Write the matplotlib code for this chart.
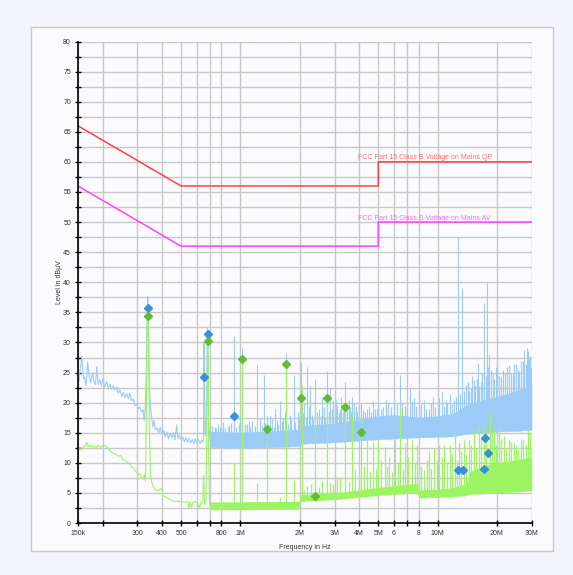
import matplotlib
matplotlib.use('Agg')
import matplotlib.pyplot as plt
from matplotlib.patches import Rectangle
import numpy as np

plt.rcParams['font.family'] = ['Liberation Sans', 'DejaVu Sans']

### Data (frequency in Hz, level in dBuV)
# Limit lines
qp_f = [150e3, 500e3, 5e6, 5e6, 30e6]
qp_v = [66, 56, 56, 60, 60]
av_f = [150e3, 500e3, 5e6, 5e6, 30e6]
av_v = [56, 46, 46, 50, 50]

# Peak trace, low frequency part
pk_f = [150e3, 152e3, 154e3, 157e3, 160e3, 162e3, 165e3, 168e3, 171e3, 174e3,
        178e3, 181e3, 184e3, 187e3, 190e3, 194e3, 197e3, 201e3, 205e3, 210e3,
        214e3, 218e3, 222e3, 227e3, 231e3, 236e3, 240e3, 245e3, 250e3, 255e3,
        260e3, 265e3, 270e3, 275e3, 280e3, 286e3, 292e3, 298e3, 304e3, 309e3,
        315e3, 321e3, 325e3, 329e3, 333e3, 337e3, 339e3, 342e3, 346e3, 350e3,
        355e3, 360e3, 365e3, 370e3, 378e3, 385e3, 392e3, 400e3, 408e3, 416e3,
        424e3, 432e3, 440e3, 450e3, 458e3, 466e3, 475e3, 482e3, 490e3, 500e3,
        510e3, 520e3, 530e3, 540e3, 550e3, 560e3, 570e3, 580e3, 590e3, 600e3,
        612e3, 625e3, 636e3, 645e3, 650e3, 654e3, 658e3, 662e3, 668e3, 675e3,
        680e3, 685e3, 690e3, 697e3, 705e3]
pk_v = [27.7, 23.5, 25.5, 27.7, 24.0, 24.3, 22.8, 26.7, 24.5, 23.3,
        25.0, 23.5, 23.0, 26.0, 23.0, 23.8, 22.8, 24.0, 22.6, 23.5,
        22.3, 23.1, 22.2, 22.8, 22.1, 22.6, 21.6, 22.1, 21.0, 21.7,
        20.8, 21.5, 20.7, 21.6, 20.3, 20.6, 19.5, 19.8, 19.0, 19.3,
        18.5, 18.8, 17.0, 19.0, 25.0, 35.0, 37.6, 33.0, 22.0, 19.5,
        17.5, 16.0, 17.0, 15.5, 15.8, 15.0, 15.9, 14.8, 15.4, 14.3,
        15.1, 14.0, 14.9, 14.2, 15.0, 13.8, 16.3, 14.0, 14.6, 13.8,
        14.3, 13.5, 14.2, 13.4, 14.1, 13.3, 13.9, 13.2, 14.0, 13.5,
        13.9, 13.2, 13.8, 13.5, 14.0, 30.0, 22.0, 15.0, 14.5, 20.0,
        32.5, 31.0, 17.0, 15.0, 13.5]

# Peak trace, dense part above 700 kHz: lower and upper edge of the band
pk_band_f = [700e3, 1e6, 1.5e6, 2e6, 2.1e6, 3e6, 4e6, 5e6, 6e6, 8e6,
             10e6, 12e6, 14e6, 17e6, 20e6, 25e6, 30e6]
pk_band_lo = [12.6, 12.5, 12.6, 12.8, 13.2, 13.4, 13.7, 13.9, 14.0, 14.2,
              14.3, 14.4, 14.8, 15.0, 15.2, 15.3, 15.5]
pk_band_hi = [15.2, 15.1, 15.3, 15.6, 16.2, 16.6, 17.3, 17.8, 18.0, 17.6,
              17.8, 18.2, 19.6, 20.5, 21.0, 22.0, 23.0]

# Peak trace, tall single spikes
pk_spike_f = [750e3, 800e3, 860e3, 932e3, 980e3, 1.02e6, 1.08e6, 1.15e6, 1.22e6, 1.31e6,
              1.37e6, 1.45e6, 1.50e6, 1.58e6, 1.65e6, 1.70e6, 1.78e6, 1.86e6, 1.95e6, 2.04e6,
              2.11e6, 2.18e6, 2.25e6, 2.38e6, 2.5e6, 2.6e6, 2.74e6, 2.85e6, 2.95e6, 3.1e6,
              3.25e6, 3.41e6, 3.55e6, 3.7e6, 3.85e6, 4.1e6, 4.3e6, 4.5e6, 4.8e6, 5.0e6,
              5.3e6, 5.6e6, 6.0e6, 6.45e6, 6.8e6, 7.2e6, 7.6e6, 8.0e6, 8.5e6, 9.0e6,
              9.5e6, 10e6, 10.5e6, 11e6, 11.5e6, 12.1e6, 12.7e6, 13.3e6, 13.9e6, 14.5e6,
              15e6, 15.5e6, 16e6, 16.5e6, 17.1e6, 17.8e6, 18.3e6, 19e6, 19.7e6, 20.5e6,
              21.5e6, 22.5e6, 23.5e6, 24.5e6, 25.5e6, 26.5e6, 27.5e6, 28.3e6, 29e6, 29.7e6]
pk_spike_v = [15.8, 15.5, 16.0, 31.0, 16.5, 29.0, 16.5, 17.0, 26.3, 24.6,
              17.5, 17.2, 19.0, 20.2, 17.5, 28.3, 18.0, 24.6, 18.5, 26.8,
              20.0, 26.0, 22.7, 24.0, 19.0, 21.0, 25.2, 22.5, 20.5, 19.5,
              21.0, 23.5, 20.5, 21.0, 19.5, 20.0, 18.5, 19.5, 19.0, 20.5,
              19.3, 20.0, 21.0, 24.6, 19.5, 22.4, 20.8, 19.5, 20.5, 19.0,
              21.0, 19.5, 22.0, 20.5, 21.5, 20.5, 47.6, 39.0, 23.0, 22.0,
              24.5, 23.0, 26.6, 23.5, 36.5, 39.9, 27.9, 25.0, 26.0, 24.5,
              25.5, 26.0, 25.0, 26.5, 25.5, 27.0, 28.8, 29.0, 27.5, 26.0]

# Peak trace, small spikes that make the ragged top of the band
pk_small_f = [720e3, 740e3, 770e3, 790e3, 820e3, 840e3, 880e3, 900e3, 950e3, 1.0e6,
              1.05e6, 1.1e6, 1.12e6, 1.18e6, 1.25e6, 1.28e6, 1.34e6, 1.40e6, 1.42e6, 1.48e6,
              1.53e6, 1.55e6, 1.62e6, 1.68e6, 1.74e6, 1.81e6, 1.9e6, 1.98e6,
              2.08e6, 2.14e6, 2.22e6, 2.3e6, 2.34e6, 2.44e6, 2.55e6, 2.65e6, 2.7e6, 2.8e6,
              2.9e6, 3.0e6, 3.05e6, 3.15e6, 3.2e6, 3.3e6, 3.35e6, 3.48e6, 3.6e6, 3.65e6,
              3.78e6, 3.9e6, 4.0e6, 4.2e6, 4.4e6, 4.6e6, 4.7e6, 4.9e6,
              5.15e6, 5.45e6, 5.8e6, 6.2e6, 6.6e6, 7.0e6, 7.4e6, 7.8e6, 8.2e6, 8.7e6,
              9.2e6, 9.7e6, 10.2e6, 10.8e6, 11.2e6, 11.8e6, 12.4e6,
              13.0e6, 13.6e6, 14.2e6, 14.8e6, 15.3e6, 15.8e6, 16.3e6, 16.8e6, 17.5e6, 18.0e6,
              18.6e6, 19.3e6, 20.0e6, 21.0e6, 22.0e6, 23.0e6, 24.0e6, 25.0e6, 26.0e6, 27.0e6,
              28.0e6, 28.7e6, 29.4e6]
pk_small_v = [16.2, 15.9, 16.5, 16.0, 16.8, 15.8, 16.3, 16.6, 16.0, 17.2,
              16.4, 16.9, 15.9, 16.2, 17.5, 16.1, 16.7, 16.3, 17.8, 16.0,
              17.1, 16.5, 16.9, 18.5, 16.4, 17.3, 16.8, 17.6,
              18.2, 17.5, 19.5, 18.0, 17.2, 18.4, 17.8, 19.2, 17.6, 18.6,
              19.0, 18.0, 20.5, 18.3, 19.0, 18.5, 20.0, 18.8, 19.2, 18.4,
              20.0, 18.6, 19.5, 18.8, 19.0, 18.5, 20.2, 18.9,
              19.0, 20.5, 19.2, 19.8, 20.0, 19.0, 20.2, 19.5, 19.8, 19.0,
              20.0, 19.3, 20.8, 19.5, 20.0, 19.8, 21.0,
              21.5, 22.0, 23.5, 22.5, 23.8, 24.0, 22.8, 25.0, 24.5, 26.0,
              25.5, 24.0, 25.8, 24.2, 25.0, 26.2, 24.8, 26.5, 25.2, 27.0,
              26.5, 28.5, 27.8]

# Average trace, low frequency part
avg_f = [150e3, 155e3, 160e3, 164e3, 166e3, 169e3, 172e3, 176e3, 180e3, 185e3,
         190e3, 195e3, 200e3, 206e3, 210e3, 214e3, 220e3, 226e3, 233e3, 240e3,
         247e3, 254e3, 260e3, 268e3, 275e3, 281e3, 287e3, 293e3, 299e3, 305e3,
         310e3, 316e3, 322e3, 326e3, 330e3, 334e3, 337e3, 339e3, 342e3, 346e3,
         350e3, 355e3, 362e3, 370e3, 380e3, 390e3, 400e3, 405e3, 420e3, 440e3,
         449e3, 460e3, 480e3, 500e3, 520e3, 540e3, 548e3, 555e3, 565e3, 575e3,
         590e3, 605e3, 620e3, 632e3, 645e3, 650e3, 655e3, 660e3, 668e3, 675e3,
         680e3, 685e3, 690e3, 697e3]
avg_v = [12.3, 12.4, 12.6, 12.9, 13.4, 12.7, 12.9, 12.6, 12.8, 12.5,
         12.9, 12.6, 12.8, 12.9, 12.6, 12.4, 11.9, 11.6, 11.4, 11.1,
         11.2, 10.6, 10.4, 10.0, 9.9, 9.3, 9.1, 8.6, 8.4, 8.0,
         8.1, 7.5, 7.3, 8.0, 7.0, 20.0, 33.0, 35.0, 30.0, 15.0,
         8.0, 6.8, 6.0, 5.5, 5.4, 5.5, 5.8, 4.5, 4.3, 3.9,
         3.8, 3.6, 3.6, 3.5, 3.5, 3.5, 2.5, 3.5, 2.6, 3.5,
         3.5, 3.5, 2.5, 3.5, 3.5, 8.0, 5.0, 3.0, 3.5, 14.0,
         31.0, 30.0, 12.0, 3.0]

# Average trace, dense part above 700 kHz
avg_band_f = [700e3, 1.99e6, 2.01e6, 3e6, 4e6, 5e6, 6e6, 7.9e6, 8.05e6, 10e6,
              12e6, 14e6, 14.5e6, 17e6, 20e6, 25e6, 30e6]
avg_band_lo = [2.2, 2.3, 3.6, 3.9, 4.3, 4.6, 4.8, 5.0, 4.2, 4.3,
               4.4, 4.6, 4.8, 4.9, 5.0, 5.2, 5.4]
avg_band_hi = [3.5, 3.6, 4.7, 5.0, 5.5, 5.9, 6.2, 6.6, 5.5, 5.6,
               5.9, 6.5, 8.5, 9.5, 10.0, 10.5, 11.0]

# Average trace, single spikes
avg_spike_f = [932e3, 1.02e6, 1.21e6, 1.36e6, 1.58e6, 1.70e6, 1.87e6, 2.05e6, 2.18e6, 2.39e6,
               2.74e6, 2.85e6, 3.09e6, 3.41e6, 3.69e6, 4.1e6, 4.4e6, 4.7e6, 5.0e6, 5.4e6,
               5.7e6, 6.1e6, 6.45e6, 6.85e6, 7.4e6, 7.9e6, 8.5e6, 9.0e6, 9.6e6, 10.2e6,
               10.8e6, 11.5e6, 12.2e6, 12.8e6, 13.6e6, 14.4e6, 15.3e6, 16.2e6, 17.2e6, 18.4e6,
               19.3e6, 20.4e6, 21.6e6, 22.9e6, 24.3e6, 25.7e6, 27.2e6, 28.8e6, 30e6,
               2.1e6, 2.28e6, 2.5e6, 2.6e6, 2.95e6, 3.2e6, 3.55e6, 3.8e6, 4.0e6, 4.25e6,
               4.55e6, 4.85e6, 5.15e6, 5.55e6, 5.9e6, 6.3e6, 6.65e6, 7.1e6, 7.65e6, 8.2e6,
               8.8e6, 9.3e6, 9.9e6, 10.5e6, 11.2e6, 11.8e6, 12.5e6, 13.2e6, 14.0e6, 14.8e6,
               15.7e6, 16.6e6, 17.6e6, 18.9e6, 19.8e6, 21.0e6, 22.3e6, 23.6e6, 25.0e6, 26.4e6,
               28.0e6, 29.4e6]
avg_spike_v = [10.0, 27.8, 6.6, 17.7, 4.4, 27.0, 7.2, 23.0, 6.1, 20.2,
               22.0, 6.6, 7.7, 20.0, 17.7, 17.7, 14.4, 13.3, 13.8, 12.7,
               11.0, 13.8, 19.3, 13.3, 13.8, 13.0, 8.8, 11.9, 12.4, 13.0,
               13.0, 13.0, 15.7, 13.3, 13.8, 13.8, 15.5, 16.0, 16.3, 18.5,
               16.0, 16.0, 14.4, 13.8, 13.3, 12.2, 13.8, 15.5, 14.4,
               5.5, 6.5, 6.0, 7.0, 6.5, 7.5, 6.8, 9.0, 8.0, 9.5,
               8.5, 9.0, 10.5, 9.5, 8.5, 10.0, 9.0, 11.0, 10.0, 9.5,
               10.5, 9.0, 10.5, 11.0, 10.0, 11.5, 10.5, 12.0, 11.5, 13.0,
               12.5, 14.0, 13.5, 15.0, 13.0, 14.0, 12.5, 13.5, 12.8, 14.0,
               13.0, 15.0]

# Final measurement markers
qp_mark_f = [339e3, 656e3, 683e3, 932e3, 12.7e6, 13.4e6, 17.1e6, 17.3e6, 18.0e6]
qp_mark_v = [35.7, 24.2, 31.4, 17.7, 8.8, 8.8, 9.0, 14.1, 11.6]
av_mark_f = [339e3, 683e3, 1.02e6, 1.37e6, 1.70e6, 2.04e6, 2.38e6, 2.74e6, 3.41e6, 4.10e6]
av_mark_v = [34.4, 30.2, 27.3, 15.6, 26.5, 20.7, 4.5, 20.7, 19.3, 15.1]

x_ticks = [150e3, 200e3, 300e3, 400e3, 500e3, 600e3, 700e3, 800e3, 1e6,
           2e6, 3e6, 4e6, 5e6, 6e6, 7e6, 8e6, 10e6, 20e6, 30e6]
x_labels = ['150k', '', '300', '400', '500', '', '', '800', '1M',
            '2M', '3M', '4M', '5M', '6', '', '8', '10M', '20M', '30M']

# Colours
c_peak = '#9ccbf8'
c_avg = '#9cf462'
c_qp = '#ff4040'
c_av = '#ff40ff'

### Figure
fig = plt.figure(figsize=(5.73, 5.75), dpi=100, facecolor='#f4f5fc')
fig.patches.append(Rectangle((0.054, 0.042), 0.911, 0.911, transform=fig.transFigure,
                             facecolor='#fbfbfe', edgecolor='#c8c8c8', lw=1.0, zorder=-5))
ax = fig.add_axes([0.136, 0.0904, 0.792, 0.8374])
ax.set_facecolor('#fbfbfe')
ax.set_xscale('log')
ax.set_xlim(150e3, 30e6)
ax.set_ylim(0, 80)

# Grid and ticks
ax.set_xticks(x_ticks)
ax.set_xticklabels(x_labels)
ax.xaxis.set_minor_locator(matplotlib.ticker.NullLocator())
ax.set_yticks(np.arange(0, 81, 5))
ax.set_yticks(np.arange(0, 81, 2.5), minor=True)
ax.yaxis.set_minor_formatter(matplotlib.ticker.NullFormatter())
ax.grid(True, which='major', color='#c8c8c8', lw=1.0)
ax.grid(True, which='minor', axis='y', color='#c8c8c8', lw=1.0)
ax.set_axisbelow(True)
ax.tick_params(which='both', direction='inout', length=4, width=1.0, color='black',
               labelsize=5, labelcolor='#333333', pad=3)
for s in ['top', 'right']:
    ax.spines[s].set_visible(False)
for s in ['left', 'bottom']:
    ax.spines[s].set_linewidth(1.2)
    ax.spines[s].set_zorder(5)

ax.set_xlabel('Frequency in Hz', fontsize=5, color='#333333', labelpad=5)
ax.set_ylabel('Level in dBµV', fontsize=5, color='#333333', labelpad=0)

# Limits
ax.plot(qp_f, qp_v, color=c_qp, lw=1.1, zorder=3)
ax.plot(av_f, av_v, color=c_av, lw=1.1, zorder=3)
ax.text(3.95e6, 60.4, 'FCC Part 15 Class B Voltage on Mains QP', fontsize=5, color='#ff6a6a', zorder=4)
ax.text(3.95e6, 50.4, 'FCC Part 15 Class B Voltage on Mains AV', fontsize=5, color='#ff66ff', zorder=4)

# Peak trace
ax.plot(pk_f, pk_v, color=c_peak, lw=0.8, zorder=2)
ax.fill_between(pk_band_f, pk_band_lo, pk_band_hi, color=c_peak, lw=0, zorder=2)
pk_base = np.interp(np.log(pk_spike_f), np.log(pk_band_f), pk_band_lo)
ax.vlines(pk_spike_f, pk_base, pk_spike_v, color=c_peak, lw=0.8, zorder=2)
pk_small_base = np.interp(np.log(pk_small_f), np.log(pk_band_f), pk_band_lo)
ax.vlines(pk_small_f, pk_small_base, pk_small_v, color=c_peak, lw=0.9, zorder=2)

# Average trace
ax.plot(avg_f, avg_v, color=c_avg, lw=0.8, zorder=2.5)
ax.fill_between(avg_band_f, avg_band_lo, avg_band_hi, color=c_avg, lw=0, zorder=2.5)
avg_base = np.interp(np.log(avg_spike_f), np.log(avg_band_f), avg_band_lo)
ax.vlines(avg_spike_f, avg_base, avg_spike_v, color=c_avg, lw=0.9, zorder=2.5)

# Markers
ax.plot(qp_mark_f, qp_mark_v, 'D', color='#3d8fdc', ms=4, mec='#3d8fdc', zorder=6, clip_on=False)
ax.plot(av_mark_f, av_mark_v, 'D', color='#5fbd33', ms=4, mec='#5fbd33', zorder=6, clip_on=False)

plt.savefig('out.png', dpi=100, facecolor=fig.get_facecolor())
